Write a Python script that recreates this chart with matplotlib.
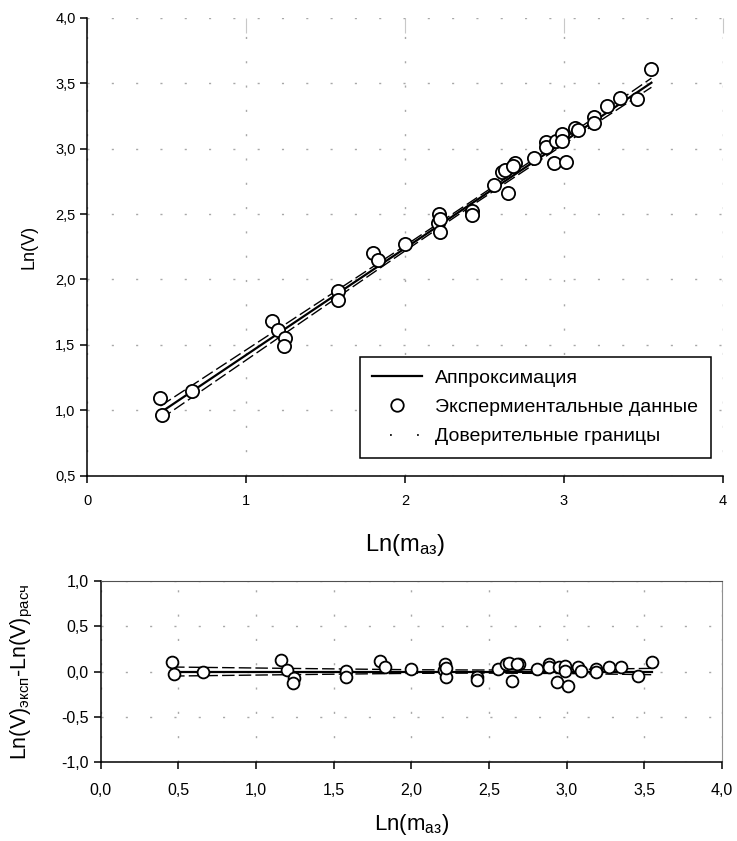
import matplotlib
matplotlib.use("Agg")
import matplotlib.pyplot as plt
from matplotlib.lines import Line2D
from matplotlib.ticker import FuncFormatter, MultipleLocator

plt.rcParams['font.family'] = ['Liberation Sans', 'DejaVu Sans']
plt.rcParams['mathtext.fontset'] = 'custom'
plt.rcParams['mathtext.rm'] = 'Liberation Sans'
plt.rcParams['mathtext.it'] = 'Liberation Sans:italic'

# экспериментальные точки: Ln(m_аз), Ln(V), остатки
ln_m = [0.46, 0.47, 0.66, 1.16, 1.20, 1.245, 1.24, 1.58, 1.58, 1.80,
        1.83, 2.00, 2.215, 2.21, 2.22, 2.22, 2.42, 2.42, 2.56, 2.61,
        2.63, 2.65, 2.69, 2.68, 2.81, 2.885, 2.885, 2.94, 2.95, 2.99,
        2.99, 3.01, 3.07, 3.09, 3.19, 3.19, 3.27, 3.35, 3.46, 3.55]
ln_v = [1.09, 0.96, 1.15, 1.68, 1.61, 1.55, 1.49, 1.91, 1.84, 2.20,
        2.15, 2.27, 2.50, 2.43, 2.36, 2.46, 2.52, 2.49, 2.72, 2.82,
        2.84, 2.66, 2.89, 2.87, 2.93, 3.05, 3.01, 2.89, 3.06, 3.11,
        3.06, 2.90, 3.16, 3.14, 3.24, 3.20, 3.33, 3.39, 3.38, 3.61]
resid = [0.11, -0.03, 0.0, 0.13, 0.02, -0.07, -0.13, 0.01, -0.055, 0.12,
         0.05, 0.03, 0.085, 0.02, -0.06, 0.04, -0.06, -0.09, 0.026, 0.085,
         0.09, -0.11, 0.085, 0.08, 0.03, 0.085, 0.05, -0.12, 0.045, 0.06,
         0.01, -0.16, 0.045, 0.01, 0.03, -0.01, 0.055, 0.05, -0.05, 0.105]

# аппроксимация
fit_x = [0.46, 3.55]
fit_y = [0.982, 3.505]
res_fit_y = [0.0, 0.0]

# доверительные границы
band_x = [0.46, 1.2, 2.0, 2.45, 3.0, 3.55]
band_up = [1.032, 1.621, 2.259, 2.624, 3.078, 3.540]
band_lo = [0.932, 1.551, 2.219, 2.590, 3.034, 3.470]
res_band_up = [0.05, 0.035, 0.02, 0.017, 0.022, 0.035]
res_band_lo = [-0.05, -0.035, -0.02, -0.017, -0.022, -0.035]

comma1 = FuncFormatter(lambda v, p: f'{v:.1f}'.replace('.', ','))
comma0 = FuncFormatter(lambda v, p: f'{v:.0f}')
grid_style = dict(color='#a8a8a8', linestyle=(0, (1.5, 16)), linewidth=1)
band_style = dict(color='black', linestyle=(0, (9, 3)), linewidth=1)

fig = plt.figure(figsize=(7.37, 8.41), dpi=100)

# верхний график
ax1 = fig.add_axes([0.1185, 0.4345, 0.8624, 0.5441])
ax1.plot(fit_x, fit_y, color='black', lw=1.6, zorder=3)
ax1.plot(band_x, band_up, zorder=2, **band_style)
ax1.plot(band_x, band_lo, zorder=2, **band_style)
ax1.plot(ln_m, ln_v, 'o', ms=9.5, mfc='white', mec='black', mew=1.3, zorder=4)
ax1.set_xlim(0, 4)
ax1.set_ylim(0.5, 4.0)
ax1.xaxis.set_major_locator(MultipleLocator(1))
ax1.yaxis.set_major_locator(MultipleLocator(0.5))
ax1.xaxis.set_major_formatter(comma0)
ax1.yaxis.set_major_formatter(comma1)
ax1.grid(True, **grid_style)
ax1.set_axisbelow(True)
for s in ['top', 'right']:
    ax1.spines[s].set_visible(False)
for s in ['left', 'bottom']:
    ax1.spines[s].set_linewidth(1.1)
ax1.tick_params(direction='out', length=5, width=1.1, labelsize=10.5)
ax1.tick_params(axis='x', pad=8)
sec = ax1.secondary_xaxis('top')
sec.xaxis.set_major_locator(MultipleLocator(1))
sec.tick_params(direction='in', length=11, color='#c8c8c8', labeltop=False)
sec.spines['top'].set_visible(False)
ax1.set_xlabel('Ln(m$_{\\mathrm{аз}}$)', fontsize=17)
ax1.xaxis.set_label_coords(0.5, -0.124)
ax1.set_ylabel('Ln(V)', fontsize=13)
ax1.yaxis.set_label_coords(-0.078, 0.5)

handles = [Line2D([], [], color='black', lw=1.6),
           Line2D([], [], marker='o', ls='none', ms=9, mfc='white', mec='black', mew=1.3),
           Line2D([], [], color='black', lw=1.4, linestyle=(4.57, (0.8, 13.1)))]
labels = ['Аппроксимация', 'Экспермиентальные данные', 'Доверительные границы']
leg = ax1.legend(handles, labels, loc='lower right', bbox_to_anchor=(0.981, 0.0385),
                 borderaxespad=0, fontsize=14, frameon=True, fancybox=False,
                 framealpha=1, edgecolor='black', borderpad=0.65, labelspacing=0.6,
                 handlelength=2.57, handletextpad=0.67)
leg.get_frame().set_linewidth(1.1)

# нижний график (остатки)
ax2 = fig.add_axes([0.1365, 0.0939, 0.8434, 0.2152])
ax2.plot(fit_x, res_fit_y, color='black', lw=1.6, zorder=3)
ax2.plot(band_x, res_band_up, zorder=2, **band_style)
ax2.plot(band_x, res_band_lo, zorder=2, **band_style)
ax2.plot(ln_m, resid, 'o', ms=8.5, mfc='white', mec='black', mew=1.3, zorder=4)
ax2.set_xlim(0, 4)
ax2.set_ylim(-1.0, 1.0)
ax2.xaxis.set_major_locator(MultipleLocator(0.5))
ax2.yaxis.set_major_locator(MultipleLocator(0.5))
ax2.xaxis.set_major_formatter(comma1)
ax2.yaxis.set_major_formatter(comma1)
ax2.grid(True, **grid_style)
ax2.set_axisbelow(True)
ax2.spines['top'].set_color('#505050')
ax2.spines['right'].set_color('#909090')
for s in ['left', 'bottom']:
    ax2.spines[s].set_linewidth(1.1)
ax2.tick_params(direction='out', length=5, width=1.1, labelsize=11.5)
ax2.tick_params(axis='x', pad=10)
ax2.set_xlabel('Ln(m$_{\\mathrm{аз}}$)', fontsize=16)
ax2.xaxis.set_label_coords(0.5, -0.276)
ax2.set_ylabel('Ln(V)$_{\\mathrm{эксп}}$-Ln(V)$_{\\mathrm{расч}}$', fontsize=15.5)
ax2.yaxis.set_label_coords(-0.1055, 0.5)

fig.savefig('out.png', dpi=100)
